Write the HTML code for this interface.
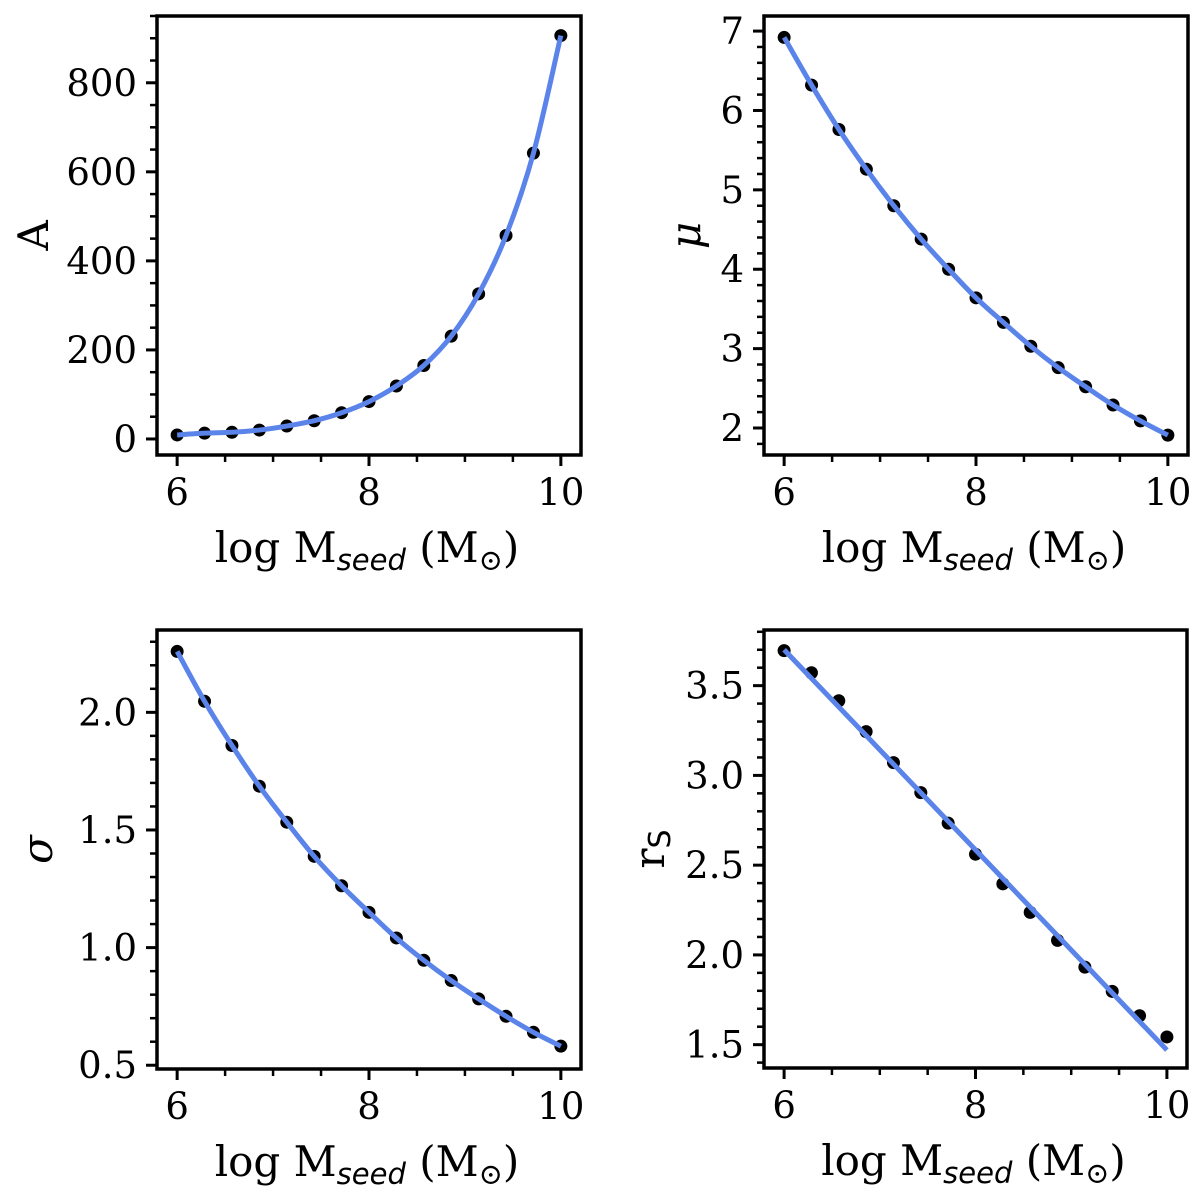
<!DOCTYPE html>
<html><head><meta charset="utf-8"><style>
html,body{margin:0;padding:0;background:#fff;}
svg{display:block;}
text{font-family:"DejaVu Serif","Liberation Serif",serif;fill:#000;}
</style></head><body>
<svg id="fig" width="1200" height="1196" viewBox="0 0 1200 1196" xmlns="http://www.w3.org/2000/svg"></svg>
<script>
const xValues = [6,6.2857,6.5714,6.8571,7.1429,7.4286,7.7143,8,8.2857,8.5714,8.8571,9.1429,9.4286,9.7143,10];
const aValues = [9,13,15,20,29,41,59,84,119,165,231,326,457,642,906];
const muValues = [6.92,6.32,5.76,5.26,4.80,4.38,4.00,3.64,3.33,3.03,2.76,2.52,2.29,2.09,1.91];
const sigmaValues = [2.259,2.047,1.859,1.686,1.533,1.388,1.263,1.150,1.041,0.946,0.860,0.782,0.708,0.640,0.581];
const rsValues = [3.695,3.572,3.416,3.244,3.071,2.904,2.734,2.561,2.396,2.237,2.081,1.932,1.797,1.661,1.543];
const rsFitX = [6,10];
const rsFitY = [3.70,1.47];
const xTicks = [6,8,10];
const aTicks = [0,200,400,600,800];
const muTicks = [2,3,4,5,6,7];
const sigmaTicks = [0.5,1.0,1.5,2.0];
const rsTicks = [1.5,2.0,2.5,3.0,3.5];

const NS = "http://www.w3.org/2000/svg";
const svg = document.getElementById('fig');
function mk(tag, attrs, parent){const e=document.createElementNS(NS,tag);for(const k in attrs)e.setAttribute(k,attrs[k]);(parent||svg).appendChild(e);return e;}

function panel(cfg){
  const g = mk('g',{});
  
  
  const L=cfg.box[0],T=cfg.box[1],R=cfg.box[2],B=cfg.box[3];
  const xmin=5.79,xmax=10.21;
  const sx=v=>L+(v-xmin)/(xmax-xmin)*(R-L);
  const sy=v=>B-(v-cfg.ylim[0])/(cfg.ylim[1]-cfg.ylim[0])*(B-T);
  for(let v=6; v<=10.001; v+=0.5){
    const major = Math.abs(v-Math.round(v/2)*2)<1e-6;
    const t=mk('line',{x1:sx(v),x2:sx(v),y1:B,y2:B+(major?11:7),stroke:'#000','stroke-width':major?3:2.5},g);
    
    
  }
  xTicks.forEach(v=>{
    const t=mk('text',{x:sx(v),y:B+50,'text-anchor':'middle','font-size':37},g);
    t.textContent=String(v);
    
    
  });
  const st=cfg.minor;
  const n0=Math.ceil(cfg.ylim[0]/st-1e-6), n1=Math.floor(cfg.ylim[1]/st+1e-6);
  for(let i=n0;i<=n1;i++){
    const v=i*st;
    const major = cfg.ticks.some(m=>Math.abs(m-v)<st/10);
    const t=mk('line',{x1:L,x2:L-(major?11:7),y1:sy(v),y2:sy(v),stroke:'#000','stroke-width':major?3:2.5},g);
    
    
  }
  cfg.ticks.forEach(v=>{
    const t=mk('text',{x:L-20,y:sy(v)+13,'text-anchor':'end','font-size':37},g);
    t.textContent=cfg.fmt(v);
    
    
  });
  cfg.data.forEach((v,i)=>{
    const c=mk('circle',{cx:sx(xValues[i]),cy:sy(v),r:6.5,fill:'#000'},g);
    
    
  });
  let d='';
  if(cfg.fitX){
    d='M'+sx(cfg.fitX[0])+','+sy(cfg.fitY[0])+' L'+sx(cfg.fitX[1])+','+sy(cfg.fitY[1]);
  } else {
    const p=cfg.data.map((v,i)=>[sx(xValues[i]),sy(v)]);
    d='M'+p[0][0]+','+p[0][1];
    for(let i=0;i<p.length-1;i++){
      const p0=p[Math.max(0,i-1)],p1=p[i],p2=p[i+1],p3=p[Math.min(p.length-1,i+2)];
      const c1=[p1[0]+(p2[0]-p0[0])/6,p1[1]+(p2[1]-p0[1])/6];
      const c2=[p2[0]-(p3[0]-p1[0])/6,p2[1]-(p3[1]-p1[1])/6];
      d+=' C'+c1[0]+','+c1[1]+' '+c2[0]+','+c2[1]+' '+p2[0]+','+p2[1];
    }
  }
  const ln=mk('path',{d:d,fill:'none',stroke:'#5b84ea','stroke-width':5,'stroke-linecap':'butt'},g);
  
  
  const fr=mk('rect',{x:L,y:T,width:R-L,height:B-T,fill:'none',stroke:'#000','stroke-width':3.5},g);
  
  
  const xl=mk('text',{x:(L+R)/2-2,y:B+107,'text-anchor':'middle','font-size':42},g);
  xl.innerHTML='log M<tspan font-family="DejaVu Sans, sans-serif" font-style="oblique" font-size="29" dy="8">seed</tspan><tspan dy="-8"> (M</tspan><tspan font-size="29" dy="8">⊙</tspan><tspan dy="-8">)</tspan>';
  
  
  const yl=mk('text',{x:0,y:0,'text-anchor':'middle','font-size':42,transform:'translate('+cfg.ylx+','+((T+B)/2)+') rotate(-90)'},g);
  yl.innerHTML=cfg.ylabel;
  
  
}

panel({name:'panel-a',box:[157,16,581,455],ylim:[-36,950],minor:50,ticks:aTicks,fmt:v=>String(v),data:aValues,ylx:48,ylabel:'A'});
panel({name:'panel-mu',box:[764,16,1188,455],ylim:[1.66,7.19],minor:0.2,ticks:muTicks,fmt:v=>String(v),data:muValues,ylx:700,ylabel:'<tspan font-style="italic">μ</tspan>'});
panel({name:'panel-sigma',box:[157,630,581,1069],ylim:[0.484,2.35],minor:0.1,ticks:sigmaTicks,fmt:v=>v.toFixed(1),data:sigmaValues,ylx:52,ylabel:'<tspan font-style="italic">σ</tspan>'});
panel({name:'panel-rs',box:[764,630,1187,1068],ylim:[1.37,3.81],minor:0.1,ticks:rsTicks,fmt:v=>v.toFixed(1),data:rsValues,fitX:rsFitX,fitY:rsFitY,ylx:664,ylabel:'r<tspan font-family="DejaVu Sans, sans-serif" font-size="30" dy="6">S</tspan>'});
</script>
</body></html>
